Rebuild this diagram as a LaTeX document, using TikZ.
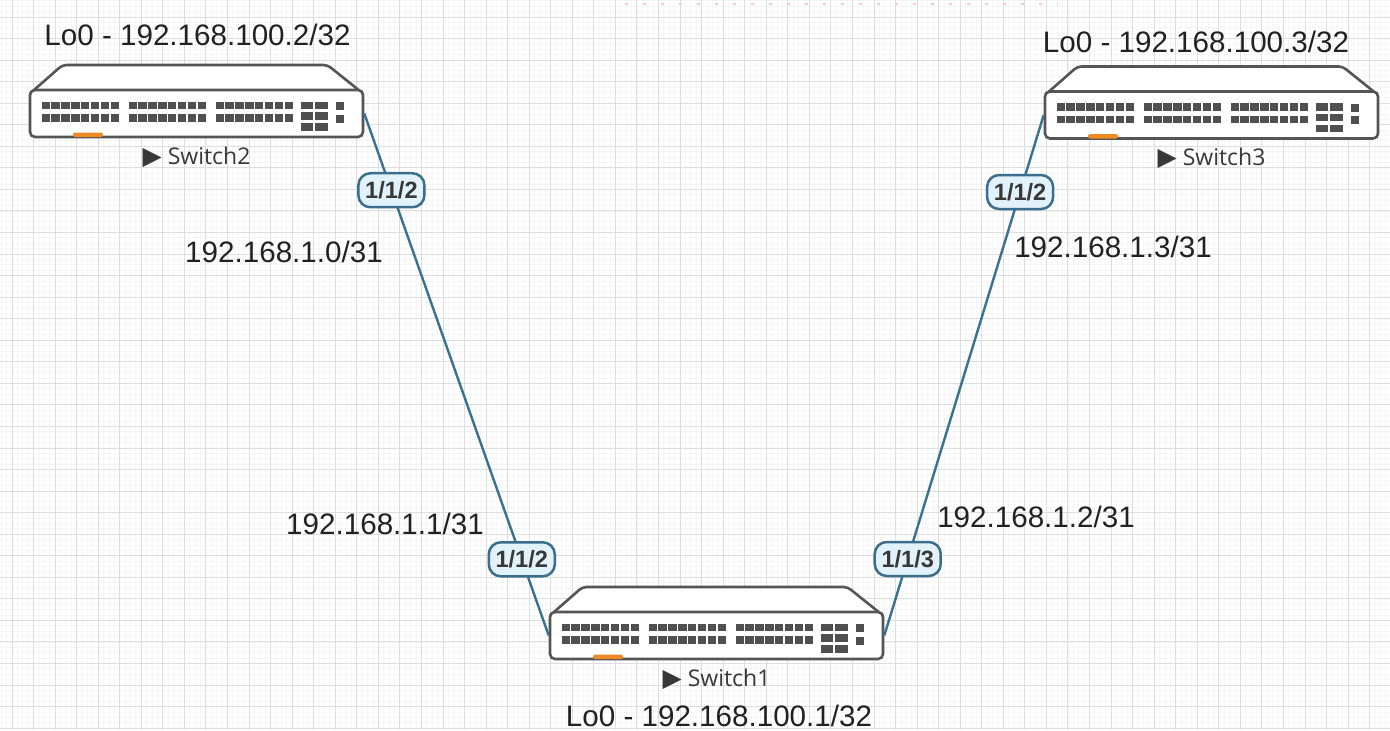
\documentclass[tikz,border=0pt]{standalone}
\usepackage{fontspec}
\setmainfont{Liberation Sans}
\newfontfamily\swfont{Open Sans}
\newfontfamily\symfont{DejaVu Sans}
\usetikzlibrary{positioning}
\definecolor{linkblue}{HTML}{3A7190}
\definecolor{portedge}{HTML}{3B6E8C}
\definecolor{portfill}{HTML}{E2F2FB}
\definecolor{swgray}{HTML}{555555}
\definecolor{porttone}{HTML}{505050}
\definecolor{ledorange}{HTML}{F08A24}
\tikzset{
  gridmajor/.style={draw=black!13,line width=0.5pt},
  gridminor/.style={draw=black!3.5,line width=0.4pt},
  pageedge/.style={draw=red!22,line width=1pt,dash pattern=on 1.5pt off 7.5pt},
  swline/.style={draw=swgray,line width=1.3pt,fill=white},
  swpanel/.style={swline,rectangle,rounded corners=2.5pt,minimum width=166.5pt,minimum height=23.5pt,inner sep=0pt},
  swname/.style={font=\swfont\fontsize{11.5}{12}\selectfont,text=black!78},
  iplabel/.style={font=\fontsize{14.8}{16}\selectfont,text=black!87},
  link/.style={draw=linkblue,line width=1.2pt},
  portlbl/.style={draw=portedge,fill=portfill,line width=1.25pt,rounded corners=6pt,
    minimum width=33pt,minimum height=17pt,inner sep=0pt,
    font=\bfseries\fontsize{11.8}{12}\selectfont,text=black!78},
  swicon/.pic={
    \draw[swline,rounded corners=2pt] (-166.5,-20) -- (-134,-48.5) -- (131,-48.5) -- (166.5,-20);
    \node[swpanel] (-p) at (0,0) {};
    % 48 ports
    \foreach \g in {0,1,2}
      \foreach \c in {0,...,7}
        \foreach \r in {0,1}
          \fill[porttone] ({-155+87*\g+9.9*\c},{-12+12.5*\r}) rectangle ++(8.3,7.8);
    % uplinks
    \foreach \c in {0,1}
      \foreach \r in {0,1,2}
        \fill[porttone] ({104+14.5*\c},{-12+10.8*\r}) rectangle ++(12.5,7.5);
    \foreach \r in {0,1}
      \fill[porttone] (139.5,{-11.5+12.5*\r}) rectangle ++(8,8);
    \fill[ledorange,rounded corners=1pt] (-123.5,19) rectangle (-93.5,23.5);
    \node[swname] (-lbl) at (0,43.5) {{\symfont\fontsize{12.5}{12}\selectfont ▶}\ #1};
  }
}

\begin{document}
\begin{tikzpicture}[x=0.5pt,y=-0.5pt]
  \useasboundingbox (0,0) rectangle (1390,730);
  \fill[white] (0,0) rectangle (1390,730);

  % grid
  \foreach \i in {0,...,258}
    \draw[gridminor] ({1.2+5.3875*\i},0) -- ({1.2+5.3875*\i},730);
  \foreach \j in {0,...,136}
    \draw[gridminor] (0,{0.8+5.3875*\j}) -- (1390,{0.8+5.3875*\j});
  \foreach \i in {0,...,64}
    \draw[gridmajor] ({12+21.55*\i},0) -- ({12+21.55*\i},730);
  \foreach \j in {0,...,33}
    \draw[gridmajor] (0,{17+21.55*\j}) -- (1390,{17+21.55*\j});
  \draw[pageedge] (625,4) -- (1058,4);

  % switches
  \pic (sw2) at (196.5,113.5) {swicon=Switch2};
  \pic (sw1) at (716.5,635.5) {swicon=Switch1};
  \pic (sw3) at (1211.5,115) {swicon=Switch3};

  % links
  \draw[link] (sw2-p.east) -- node[portlbl,pos=0.147] (sw2-up) {1/1/2}
    node[portlbl,pos=0.854] (sw1-down2) {1/1/2} (sw1-p.west);
  \draw[link] (sw1-p.east) -- node[portlbl,pos=0.147] (sw1-down3) {1/1/3}
    node[portlbl,pos=0.852] (sw3-up) {1/1/2} (sw3-p.west);

  % addresses
  \node[iplabel] (lo2) at (197.5,35) {Lo0 - 192.168.100.2/32};
  \node[iplabel] (lo3) at (1196,42) {Lo0 - 192.168.100.3/32};
  \node[iplabel] (lo1) at (719,716) {Lo0 - 192.168.100.1/32};
  \node[iplabel] (ip10) at (284,252) {192.168.1.0/31};
  \node[iplabel] (ip11) at (385,524) {192.168.1.1/31};
  \node[iplabel] (ip12) at (1036,517) {192.168.1.2/31};
  \node[iplabel] (ip13) at (1113,247) {192.168.1.3/31};
\end{tikzpicture}
\end{document}
